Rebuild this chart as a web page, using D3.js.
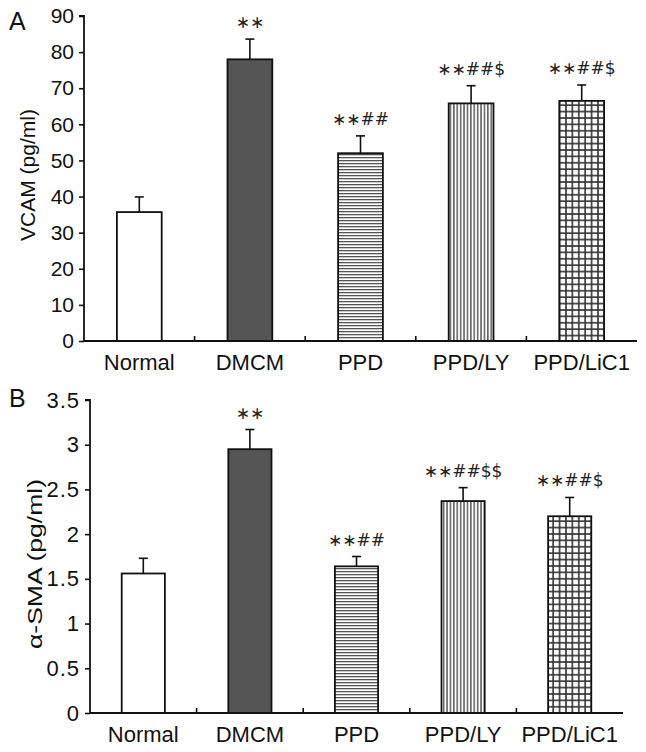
<!DOCTYPE html>
<html><head><meta charset="utf-8">
<script src="https://cdn.jsdelivr.net/npm/d3@7"></script>
<style>body{margin:0;background:#fff}svg{display:block}</style>
</head><body>
<svg id="c" width="646" height="752"></svg>
<script>
const categories = ["Normal","DMCM","PPD","PPD/LY","PPD/LiC1"];
const vcamValues = [35.7, 78.0, 52.0, 65.8, 66.5];
const vcamErrors = [4.2, 5.6, 4.8, 4.9, 4.4];
const vcamMarks = ["", "∗∗", "∗∗##", "∗∗##$", "∗∗##$"];
const vcamTicks = [0,10,20,30,40,50,60,70,80,90];
const smaValues = [1.56, 2.95, 1.64, 2.37, 2.20];
const smaErrors = [0.17, 0.22, 0.11, 0.15, 0.21];
const smaMarks = ["", "∗∗", "∗∗##", "∗∗##$$", "∗∗##$"];
const smaTicks = [0,0.5,1,1.5,2,2.5,3,3.5];
const fills = ["white","#555","url(#hLines)","url(#vLines)","url(#grid)"];

const svg = d3.select("#c");
const defs = svg.append("defs");
let p = defs.append("pattern").attr("id","hLines").attr("patternUnits","userSpaceOnUse").attr("width",6).attr("height",3);
p.append("rect").attr("width",6).attr("height",3).attr("fill","#fff");
p.append("rect").attr("y",1).attr("width",6).attr("height",1.3).attr("fill","#555");
p = defs.append("pattern").attr("id","vLines").attr("patternUnits","userSpaceOnUse").attr("width",3.4).attr("height",6);
p.append("rect").attr("width",3.4).attr("height",6).attr("fill","#fff");
p.append("rect").attr("x",1).attr("width",1.3).attr("height",6).attr("fill","#444");
p = defs.append("pattern").attr("id","grid").attr("patternUnits","userSpaceOnUse").attr("width",6.4).attr("height",6.4);
p.append("rect").attr("width",6.4).attr("height",6.4).attr("fill","#fff");
p.append("rect").attr("x",2).attr("width",1.6).attr("height",6.4).attr("fill","#333");
p.append("rect").attr("y",2).attr("width",6.4).attr("height",1.6).attr("fill","#333");

const font = "Liberation Sans, Arial, sans-serif";
function panel(o){
  const g = svg.append("g");
  const x = d3.scaleBand().domain(categories).range([o.x0,o.x1]).paddingInner(0.595).paddingOuter(0.2975);
  const y = d3.scaleLinear().domain([0,o.max]).range([o.y0,o.y1]);
  const ya = g.append("g").attr("transform",`translate(${o.x0},0)`)
    .call(d3.axisLeft(y).tickValues(o.ticks).tickSize(5).tickPadding(5).tickFormat(d=>String(d)));
  ya.select(".domain").attr("d",`M-5,${y(o.max)}H0V${y(0)}`).attr("stroke","#111").attr("stroke-width",1.8);
  ya.selectAll(".tick line").attr("stroke","#111").attr("stroke-width",1.6);
  ya.selectAll(".tick text").attr("font-family",font).attr("font-size",o.tickFont).attr("fill","#111")
    .attr("letter-spacing",o.tickSpacing);
  g.selectAll("rect.bar").data(categories).join("rect").attr("class","bar")
    .attr("x",d=>x(d)).attr("width",x.bandwidth())
    .attr("y",(d,i)=>y(o.values[i])).attr("height",(d,i)=>y(0)-y(o.values[i]))
    .attr("fill",(d,i)=>fills[i]).attr("stroke","#111").attr("stroke-width",1.8);
  const eb = g.selectAll("g.err").data(categories).join("g").attr("class","err");
  eb.append("line").attr("x1",d=>x(d)+x.bandwidth()/2).attr("x2",d=>x(d)+x.bandwidth()/2)
    .attr("y1",(d,i)=>y(o.values[i])).attr("y2",(d,i)=>y(o.values[i]+o.errors[i]))
    .attr("stroke","#111").attr("stroke-width",1.6);
  eb.append("line").attr("x1",d=>x(d)+x.bandwidth()/2-4.5).attr("x2",d=>x(d)+x.bandwidth()/2+4.5)
    .attr("y1",(d,i)=>y(o.values[i]+o.errors[i])).attr("y2",(d,i)=>y(o.values[i]+o.errors[i]))
    .attr("stroke","#111").attr("stroke-width",1.6);
  g.selectAll("text.mk").data(categories).join("text").attr("class","mk")
    .attr("x",d=>x(d)+x.bandwidth()/2)
    .attr("y",(d,i)=>y(o.values[i]+o.errors[i])-o.markGap)
    .attr("text-anchor","middle").attr("font-family","DejaVu Sans, sans-serif").attr("font-size",17).attr("fill","#222")
    .text((d,i)=>o.marks[i]);
  g.append("line").attr("x1",o.x0).attr("x2",o.x1).attr("y1",y(0)).attr("y2",y(0)).attr("stroke","#111").attr("stroke-width",1.8);
  g.selectAll("line.sep").data(categories.slice(0,-1)).join("line").attr("class","sep")
    .attr("x1",d=>x(d)+x.bandwidth()/2+x.step()/2).attr("x2",d=>x(d)+x.bandwidth()/2+x.step()/2)
    .attr("y1",y(0)).attr("y2",y(0)-5).attr("stroke","#111").attr("stroke-width",1.6);
  g.selectAll("text.cat").data(categories).join("text").attr("class","cat")
    .attr("x",d=>x(d)+x.bandwidth()/2).attr("y",y(0)+29)
    .attr("text-anchor","middle").attr("font-family",font).attr("font-size",22).attr("fill","#111").text(d=>d);
  g.append("text").attr("transform",`translate(${o.titleX},${o.titleY}) rotate(-90)`)
    .attr("text-anchor","middle").attr("font-family",font).attr("font-size",21).attr("fill","#111")
    .attr("textLength",o.titleLen).attr("lengthAdjust","spacingAndGlyphs").text(o.title);
  g.append("text").attr("x",9).attr("y",o.letterY).attr("font-family",font).attr("font-size",25).attr("fill","#111").text(o.letter);
}

panel({x0:84,x1:637,y0:341,y1:16,max:90,ticks:vcamTicks,values:vcamValues,errors:vcamErrors,marks:vcamMarks,
  markGap:11,title:"VCAM (pg/ml)",titleX:35,titleY:175,titleLen:132,letter:"A",letterY:30,tickFont:21,tickSpacing:0});
panel({x0:90,x1:623,y0:713,y1:400,max:3.5,ticks:smaTicks,values:smaValues,errors:smaErrors,marks:smaMarks,
  markGap:11,title:"α-SMA (pg/ml)",titleX:42,titleY:564,titleLen:170,letter:"B",letterY:407,tickFont:22,tickSpacing:1});
</script>
</body></html>
